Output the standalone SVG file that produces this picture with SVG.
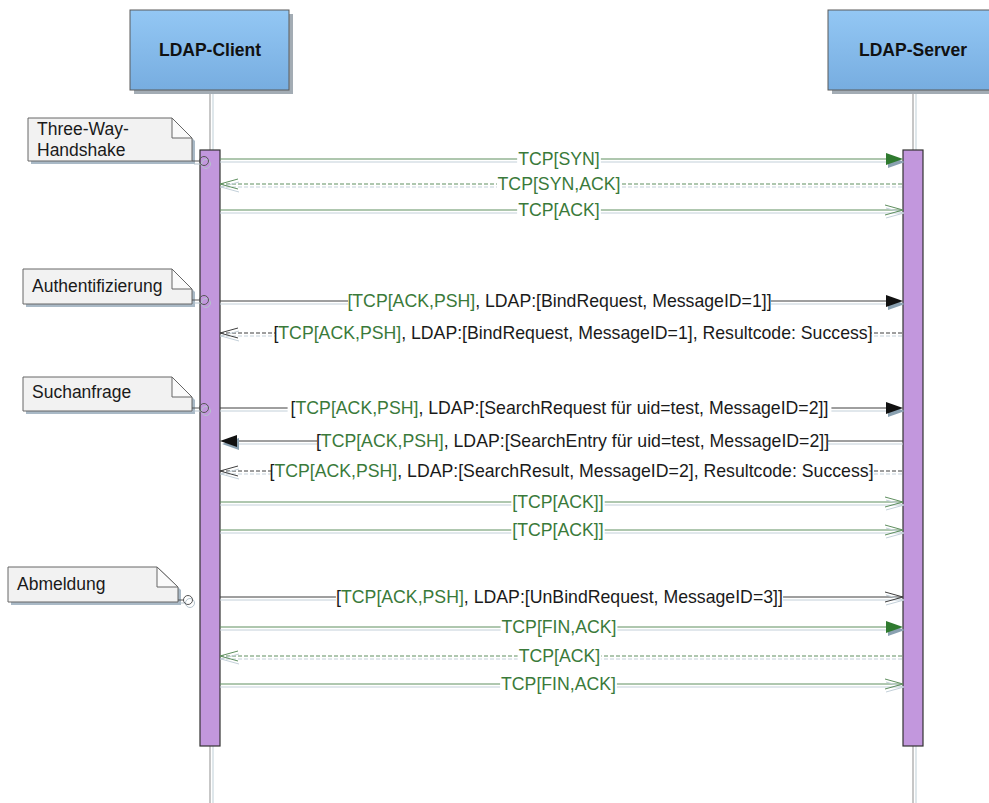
<svg xmlns="http://www.w3.org/2000/svg" xmlns:xlink="http://www.w3.org/1999/xlink" width="989" height="803" viewBox="0 0 989 803">
  <defs>
    <linearGradient id="boxFill" x1="0" y1="0" x2="0" y2="1">
      <stop offset="0" stop-color="#93c7f4"/>
      <stop offset="1" stop-color="#77ade0"/>
    </linearGradient>
    <!-- arrowheads, tip at the origin -->
    <path id="fillR" d="M0,0 L-17,-6 L-17,6 Z"/>
    <path id="fillL" d="M0,0 L17,-6 L17,6 Z"/>
    <path id="openR" d="M-18,-5 L0,0 L-18,5"/>
    <path id="openL" d="M18,-5 L0,0 L18,5"/>
  </defs>
  <style>
    text { font-family: "Liberation Sans", Arial, sans-serif; font-size: 17.5px; }
    .title { font-weight: bold; text-anchor: middle; fill: #111; }
    .box { fill: url(#boxFill); stroke: #5a5a5a; stroke-width: 1; }
    .boxshd { fill: #a3acb4; }
    .life { stroke: #a2a2a2; stroke-width: 1.2; }
    .lifeshd { stroke: #cad7de; stroke-width: 1.2; }
    .bar { fill: #c297dd; stroke: #333; stroke-width: 1.2; }
    .note { fill: #f2f2f2; stroke: #666; stroke-width: 1; }
    .noteshd { fill: #a9b9c6; }
    .fold { fill: #fafafa; stroke: #666; stroke-width: 1; }
    .ntext { fill: #1a1a1a; }
    .pin { fill: none; stroke: #555; stroke-width: 1; }
    .pinshd { fill: none; stroke: #b5c3cd; stroke-width: 1; }
    .ln { fill: none; stroke-width: 1; }
    .g { stroke: #5f8f5f; }
    .k { stroke: #3f3f3f; }
    .shd { stroke: #c3d0d9; }
    .dash { stroke-dasharray: 4 2; }
    .hg { fill: #2f7a2f; }
    .hk { fill: #111; }
    .hshd { fill: #8aa1b1; }
    .og { fill: none; stroke: #5f8f5f; stroke-width: 1; }
    .ok { fill: none; stroke: #3f3f3f; stroke-width: 1; }
    .oshd { fill: none; stroke: #c3d0d9; stroke-width: 1; }
    .bg { fill: #fff; }
    .lbl { text-anchor: middle; fill: #1a1a1a; font-size: 17.7px; }
    .gr { fill: #3a7a3a; }
  </style>

  <!-- lifelines -->
  <g id="lifelines">
    <line class="lifeshd" x1="213" y1="90" x2="213" y2="803"/>
    <line class="life" x1="210" y1="90" x2="210" y2="803"/>
    <line class="lifeshd" x1="916" y1="90" x2="916" y2="803"/>
    <line class="life" x1="913" y1="90" x2="913" y2="803"/>
  </g>

  <!-- participants -->
  <g id="client">
    <rect class="boxshd" x="134" y="14" width="159" height="80"/>
    <rect class="box" x="130" y="10" width="159" height="80"/>
    <text class="title" x="210" y="56">LDAP-Client</text>
  </g>
  <g id="server">
    <rect class="boxshd" x="832" y="14" width="170" height="80"/>
    <rect class="box" x="828" y="10" width="170" height="80"/>
    <text class="title" x="913" y="56">LDAP-Server</text>
  </g>

  <!-- activation bars -->
  <g id="client-activation">
    <rect class="bar" x="200" y="150" width="20" height="596"/>
  </g>
  <g id="server-activation">
    <rect class="bar" x="903" y="150" width="20" height="596"/>
  </g>

  <!-- notes -->
  <g id="note-handshake">
    <path class="noteshd" d="M31,121 H175 L195,141 V164 H31 Z"/>
    <path class="note" d="M28,118 H172 L192,138 V161 H28 Z"/>
    <path class="fold" d="M172,118 V138 H192 Z"/>
    <text class="ntext" x="37" y="135">Three-Way-</text>
    <text class="ntext" x="37" y="156">Handshake</text>
    <line class="pinshd" x1="194" y1="164" x2="202" y2="164"/>
    <circle class="pinshd" cx="206" cy="164" r="4.5"/>
    <line class="pin" x1="192" y1="161" x2="199.5" y2="161"/>
    <circle class="pin" cx="204" cy="161" r="4.5"/>
  </g>
  <g id="note-auth">
    <path class="noteshd" d="M26,272 H175 L195,292 V307 H26 Z"/>
    <path class="note" d="M23,269 H172 L192,289 V304 H23 Z"/>
    <path class="fold" d="M172,269 V289 H192 Z"/>
    <text class="ntext" x="32" y="292">Authentifizierung</text>
    <line class="pinshd" x1="194" y1="303" x2="202" y2="303"/>
    <circle class="pinshd" cx="206" cy="303" r="4.5"/>
    <line class="pin" x1="192" y1="300" x2="199.5" y2="300"/>
    <circle class="pin" cx="204" cy="300" r="4.5"/>
  </g>
  <g id="note-search">
    <path class="noteshd" d="M26,380 H175 L195,400 V414 H26 Z"/>
    <path class="note" d="M23,377 H172 L192,397 V411 H23 Z"/>
    <path class="fold" d="M172,377 V397 H192 Z"/>
    <text class="ntext" x="32" y="398">Suchanfrage</text>
    <line class="pinshd" x1="194" y1="411" x2="202" y2="411"/>
    <circle class="pinshd" cx="206" cy="411" r="4.5"/>
    <line class="pin" x1="192" y1="408" x2="199.5" y2="408"/>
    <circle class="pin" cx="204" cy="408" r="4.5"/>
  </g>
  <g id="note-logout">
    <path class="noteshd" d="M11,570 H160 L181,590 V605 H11 Z"/>
    <path class="note" d="M8,567 H157 L178,587 V602 H8 Z"/>
    <path class="fold" d="M157,567 V587 H178 Z"/>
    <text class="ntext" x="17" y="590">Abmeldung</text>
    <line class="pinshd" x1="180" y1="603" x2="186" y2="603"/>
    <circle class="pinshd" cx="190" cy="603" r="4.5"/>
    <line class="pin" x1="178" y1="600" x2="183.5" y2="600"/>
    <circle class="pin" cx="188" cy="600" r="4.5"/>
  </g>

  <!-- messages -->
  <g id="connectors">
    <!-- 1 TCP[SYN] -->
    <g>
      <line class="ln shd" x1="220" y1="162" x2="903" y2="162"/>
      <line class="ln g" x1="220" y1="159" x2="887" y2="159"/>
      <use href="#fillR" class="hshd" x="905" y="162"/>
      <use href="#fillR" class="hg" x="903" y="159"/>
      <rect class="bg" x="517.15" y="149" width="83.7" height="20"/>
      <text class="lbl gr" x="559" y="165">TCP[SYN]</text>
    </g>
    <!-- 2 TCP[SYN,ACK] -->
    <g>
      <line class="ln shd dash" x1="220" y1="187" x2="903" y2="187"/>
      <line class="ln g dash" x1="220" y1="184" x2="903" y2="184"/>
      <use href="#openL" class="oshd" x="221" y="187"/>
      <use href="#openL" class="og" x="220" y="184"/>
      <rect class="bg" x="496.9" y="174" width="124.2" height="20"/>
      <text class="lbl gr" x="559" y="190">TCP[SYN,ACK]</text>
    </g>
    <!-- 3 TCP[ACK] -->
    <g>
      <line class="ln shd" x1="220" y1="213" x2="903" y2="213"/>
      <line class="ln g" x1="220" y1="210" x2="903" y2="210"/>
      <use href="#openR" class="oshd" x="904" y="213"/>
      <use href="#openR" class="og" x="903" y="210"/>
      <rect class="bg" x="517.15" y="200" width="83.7" height="20"/>
      <text class="lbl gr" x="559" y="216">TCP[ACK]</text>
    </g>
    <!-- 4 BindRequest -->
    <g>
      <line class="ln shd" x1="220" y1="304" x2="903" y2="304"/>
      <line class="ln k" x1="220" y1="301" x2="887" y2="301"/>
      <use href="#fillR" class="hshd" x="905" y="304"/>
      <use href="#fillR" class="hk" x="903" y="301"/>
      <rect class="bg" x="348.15" y="291" width="422.7" height="20"/>
      <text class="lbl" x="559.5" y="307"><tspan class="gr">[TCP[ACK,PSH]</tspan>, LDAP:[BindRequest, MessageID=1]]</text>
    </g>
    <!-- 5 BindResponse -->
    <g>
      <line class="ln shd dash" x1="220" y1="336" x2="903" y2="336"/>
      <line class="ln k dash" x1="220" y1="333" x2="903" y2="333"/>
      <use href="#openL" class="oshd" x="221" y="336"/>
      <use href="#openL" class="ok" x="220" y="333"/>
      <rect class="bg" x="275.1" y="323" width="595.8" height="20"/>
      <text class="lbl" x="573" y="339">[<tspan class="gr">TCP[ACK,PSH]</tspan>, LDAP:[BindRequest, MessageID=1], Resultcode: Success]</text>
    </g>
    <!-- 6 SearchRequest -->
    <g>
      <line class="ln shd" x1="220" y1="411" x2="903" y2="411"/>
      <line class="ln k" x1="220" y1="408" x2="887" y2="408"/>
      <use href="#fillR" class="hshd" x="905" y="411"/>
      <use href="#fillR" class="hk" x="903" y="408"/>
      <rect class="bg" x="287.6" y="398" width="543.8" height="20"/>
      <text class="lbl" x="559.5" y="414">[<tspan class="gr">TCP[ACK,PSH]</tspan>, LDAP:[SearchRequest für uid=test, MessageID=2]]</text>
    </g>
    <!-- 7 SearchEntry -->
    <g>
      <line class="ln shd" x1="236" y1="444" x2="903" y2="444"/>
      <line class="ln k" x1="236" y1="441" x2="903" y2="441"/>
      <use href="#fillL" class="hshd" x="222" y="444"/>
      <use href="#fillL" class="hk" x="220" y="441"/>
      <rect class="bg" x="317.15" y="431" width="510.7" height="20"/>
      <text class="lbl" x="572.5" y="447">[<tspan class="gr">TCP[ACK,PSH]</tspan>, LDAP:[SearchEntry für uid=test, MessageID=2]]</text>
    </g>
    <!-- 8 SearchResult -->
    <g>
      <line class="ln shd dash" x1="220" y1="474" x2="903" y2="474"/>
      <line class="ln k dash" x1="220" y1="471" x2="903" y2="471"/>
      <use href="#openL" class="oshd" x="221" y="474"/>
      <use href="#openL" class="ok" x="220" y="471"/>
      <rect class="bg" x="273.6" y="461" width="595.8" height="20"/>
      <text class="lbl" x="571.5" y="477">[<tspan class="gr">TCP[ACK,PSH]</tspan>, LDAP:[SearchResult, MessageID=2], Resultcode: Success]</text>
    </g>
    <!-- 9 [TCP[ACK]] -->
    <g>
      <line class="ln shd" x1="220" y1="505" x2="903" y2="505"/>
      <line class="ln g" x1="220" y1="502" x2="903" y2="502"/>
      <use href="#openR" class="oshd" x="904" y="505"/>
      <use href="#openR" class="og" x="903" y="502"/>
      <rect class="bg" x="511.3" y="492" width="93.4" height="20"/>
      <text class="lbl gr" x="558" y="508">[TCP[ACK]]</text>
    </g>
    <!-- 10 [TCP[ACK]] -->
    <g>
      <line class="ln shd" x1="220" y1="533" x2="903" y2="533"/>
      <line class="ln g" x1="220" y1="530" x2="903" y2="530"/>
      <use href="#openR" class="oshd" x="904" y="533"/>
      <use href="#openR" class="og" x="903" y="530"/>
      <rect class="bg" x="511.3" y="520" width="93.4" height="20"/>
      <text class="lbl gr" x="558" y="536">[TCP[ACK]]</text>
    </g>
    <!-- 11 UnBindRequest -->
    <g>
      <line class="ln shd" x1="220" y1="600" x2="903" y2="600"/>
      <line class="ln k" x1="220" y1="597" x2="903" y2="597"/>
      <use href="#openR" class="oshd" x="904" y="600"/>
      <use href="#openR" class="ok" x="903" y="597"/>
      <rect class="bg" x="335.9" y="587" width="447.2" height="20"/>
      <text class="lbl" x="559.5" y="603">[<tspan class="gr">TCP[ACK,PSH]</tspan>, LDAP:[UnBindRequest, MessageID=3]]</text>
    </g>
    <!-- 12 TCP[FIN,ACK] -->
    <g>
      <line class="ln shd" x1="220" y1="630" x2="903" y2="630"/>
      <line class="ln g" x1="220" y1="627" x2="887" y2="627"/>
      <use href="#fillR" class="hshd" x="905" y="630"/>
      <use href="#fillR" class="hg" x="903" y="627"/>
      <rect class="bg" x="500.6" y="617" width="116.8" height="20"/>
      <text class="lbl gr" x="559" y="633">TCP[FIN,ACK]</text>
    </g>
    <!-- 13 TCP[ACK] -->
    <g>
      <line class="ln shd dash" x1="220" y1="659" x2="903" y2="659"/>
      <line class="ln g dash" x1="220" y1="656" x2="903" y2="656"/>
      <use href="#openL" class="oshd" x="221" y="659"/>
      <use href="#openL" class="og" x="220" y="656"/>
      <rect class="bg" x="517.65" y="646" width="83.7" height="20"/>
      <text class="lbl gr" x="559.5" y="662">TCP[ACK]</text>
    </g>
    <!-- 14 TCP[FIN,ACK] -->
    <g>
      <line class="ln shd" x1="220" y1="687" x2="903" y2="687"/>
      <line class="ln g" x1="220" y1="684" x2="903" y2="684"/>
      <use href="#openR" class="oshd" x="904" y="687"/>
      <use href="#openR" class="og" x="903" y="684"/>
      <rect class="bg" x="500.1" y="674" width="116.8" height="20"/>
      <text class="lbl gr" x="558.5" y="690">TCP[FIN,ACK]</text>
    </g>
  </g>
</svg>
